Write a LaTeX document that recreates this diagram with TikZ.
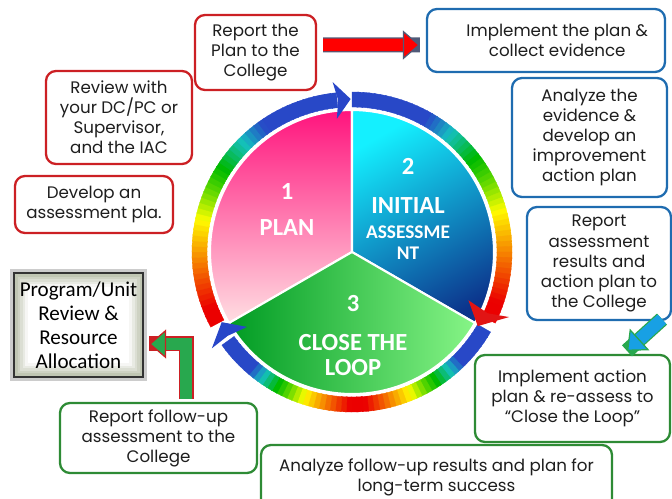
\documentclass[tikz,border=0pt]{standalone}
\usepackage{fontspec}
\setmainfont{Poppins}
\newfontfamily\calfont{Carlito}
\usetikzlibrary{arrows.meta}

\definecolor{redline}{RGB}{204,32,36}
\definecolor{blueline}{RGB}{31,108,176}
\definecolor{greenline}{RGB}{46,139,53}
\definecolor{arrowedge}{RGB}{80,90,120}
\definecolor{glowc}{RGB}{160,168,140}
\definecolor{pinktop}{RGB}{255,20,125}
\definecolor{pinkmid}{RGB}{255,65,148}
\definecolor{pinkbot}{RGB}{255,222,226}
\definecolor{cyantop}{RGB}{20,240,255}
\definecolor{bluemid}{RGB}{50,150,235}
\definecolor{bluebot}{RGB}{12,52,140}
\definecolor{greenleft}{RGB}{0,155,35}
\definecolor{greenmid}{RGB}{40,205,70}
\definecolor{greenright}{RGB}{135,245,135}
\definecolor{arrowgreen}{RGB}{40,168,78}
\definecolor{arrowcyan}{RGB}{24,160,228}
\definecolor{headblue}{RGB}{40,70,200}
\definecolor{headred}{RGB}{225,20,20}
\definecolor{textgray}{RGB}{30,30,30}

% one piece of the rainbow ring: angle, place on the arc (0 red end ... 1 blue end)
\newcommand{\ringpiece}[2]{%
    \pgfmathsetmacro\ringt{cl((#2-0.05)/0.3)+cl((#2-0.35)/0.2)+cl((#2-0.55)/0.2)}%
    \pgfmathsetmacro\ringh{(58*cl(\ringt)+64*cl(\ringt-1)+106*cl(\ringt-2))/360}%
    \pgfmathsetmacro\rings{1-0.2*cl(\ringt-2)}%
    \pgfmathsetmacro\ringb{0.92+0.08*cl(\ringt)-0.28*cl(\ringt-1)+0.06*cl(\ringt-2)}%
    \definecolor{ringc}{hsb}{\ringh,\rings,\ringb}%
    \filldraw[ringc, line width=0.2pt] (#1:2.90) arc[start angle=#1, end angle=#1-2.4, radius=2.90]
        -- ({#1-2.4}:3.20) arc[start angle=#1-2.4, end angle=#1, radius=3.20] -- cycle;}

\begin{document}
\begin{tikzpicture}[
    declare function={cl(\x)=min(max(\x,0),1);},
    stepbox/.style={draw=#1, line width=1.3pt, rounded corners=0.2cm, fill=white,
        align=center, text=textgray, inner sep=1pt,
        font=\fontsize{9.5}{11.4}\selectfont},
    glowbox/.style={draw=black!80, line width=1.2pt, fill=white, align=center,
        font=\calfont\fontsize{12}{13.6}\selectfont, text=black,
        preaction={draw=black!20, line width=5pt},
        path picture={\foreach \k [evaluate=\k as \p using int(80-14*\k)] in {0,...,5}
            \draw[glowc!\p!white, line width=1.6pt]
              ([shift={(\k*0.05,\k*0.05)}]path picture bounding box.south west) rectangle
              ([shift={(-\k*0.05,-\k*0.05)}]path picture bounding box.north east);}},
    blockarr/.style 2 args={draw=#1, line width=0.25cm,
        -{Triangle[length=0.34cm, width=0.58cm, fill=#1, color=#2, line width=0.7pt]},
        preaction={draw=#2, line width=0.30cm, arrows=-}},
    pielabel/.style={text=white, font=\calfont\bfseries\fontsize{14}{15}\selectfont,
        align=center, inner sep=0pt}]

    \useasboundingbox (0,0) rectangle (13.44,9.98);

    % the wheel
    \begin{scope}[shift={(7.04,4.94)}]
        \shade[top color=pinktop, middle color=pinkmid, bottom color=pinkbot,
            draw=white, line width=1.2pt]
            (0,0) -- (90:2.84) arc[start angle=90, end angle=210, radius=2.84] -- cycle;
        \shade[top color=cyantop, middle color=bluemid, bottom color=bluebot,
            shading angle=30, draw=white, line width=1.2pt]
            (0,0) -- (-30:2.84) arc[start angle=-30, end angle=90, radius=2.84] -- cycle;
        \shade[left color=greenleft, middle color=greenmid, right color=greenright,
            draw=white, line width=1.2pt]
            (0,0) -- (210:2.84) arc[start angle=210, end angle=330, radius=2.84] -- cycle;

        % rainbow ring, three arcs
        \foreach \a [evaluate=\a as \s using (208-\a)/110] in {208,206,...,98}
            {\ringpiece{\a}{\s}}
        \foreach \a [evaluate=\a as \s using (\a+24)/114] in {90,88,...,-24}
            {\ringpiece{\a}{\s}}
        \foreach \a [evaluate=\a as \s using abs(\a+87)/57] in {-30,-32,...,-142}
            {\ringpiece{\a}{\s}}

        % arrow heads on the ring
        \fill[headblue] (90.5:3.06) -- (96.5:3.42) -- (95.2:3.05) -- (96.5:2.68) -- cycle;
        \fill[headred] (-30.5:2.92) -- (-22.5:2.52) -- (-24.3:2.98) -- (-22.5:3.40) -- cycle;
        \fill[headblue] (208.3:2.96) -- (215.5:2.58) -- (214:3.0) -- (214.5:3.40) -- cycle;
    \end{scope}

    \node[pielabel] (num1) at (5.74,6.14) {1};
    \node[pielabel] (lplan) at (5.74,5.42) {PLAN};
    \node[pielabel] (num2) at (8.16,6.66) {2};
    \node[pielabel] (linit) at (8.16,5.86) {INITIAL};
    \node[pielabel, font=\calfont\bfseries\fontsize{11}{12}\selectfont] (lassess) at (8.16,5.13) {ASSESSME\\NT};
    \node[pielabel] (num3) at (7.06,3.90) {3};
    \node[pielabel, font=\calfont\bfseries\fontsize{14}{14.7}\selectfont] (lclose) at (7.06,2.88) {CLOSE THE\\LOOP};

    % boxes
    \node[stepbox=redline, minimum width=2.42cm, minimum height=1.50cm] (rep) at (5.11,8.93) {Report the\\Plan to the\\College};
    \node[stepbox=redline, minimum width=2.92cm, minimum height=1.86cm] (rev) at (2.38,7.63) {Review with\\your DC/PC or\\Supervisor,\\and the IAC};
    \node[stepbox=redline, minimum width=3.16cm, minimum height=1.14cm] (dev) at (1.88,5.89) {Develop an\\assessment pla.};
    \node[stepbox=blueline, minimum width=4.76cm, minimum height=1.26cm] (impl) at (10.92,9.17) {\hspace*{0.45cm}Implement the plan \&\\\hspace*{0.45cm}collect evidence};
    \node[stepbox=blueline, minimum width=3.10cm, minimum height=2.38cm] (ana) at (11.79,7.23) {Analyze the\\evidence \&\\develop an\\improvement\\action plan};
    \node[stepbox=blueline, minimum width=2.88cm, minimum height=2.26cm] (rac) at (11.98,4.71) {Report\\assessment\\results and\\action plan to\\the College};
    \node[stepbox=greenline, minimum width=3.90cm, minimum height=1.74cm] (ia) at (11.45,2.01) {Implement action\\plan \& re-assess to\\“Close the Loop”};
    \node[stepbox=greenline, minimum width=7.02cm, minimum height=1.30cm] (af) at (8.73,0.43) {Analyze follow-up results and plan for\\long-term success};
    \node[stepbox=greenline, minimum width=3.94cm, minimum height=1.40cm] (rf) at (3.17,1.22) {Report follow-up\\assessment to the\\College};
    \node[glowbox, minimum width=2.50cm, minimum height=2.08cm] (prog) at (1.57,3.48) {Program/Unit\\Review \&\\Resource\\Allocation};

    % block arrows
    \draw[blockarr={red}{arrowedge}] ([shift={(0.12,0.15)}]rep.east) -- ([shift={(-0.12,-0.09)}]impl.west);
    \draw[blockarr={arrowgreen}{redline}] ([shift={(0.55,0.06)}]rf.north) |- ([shift={(0.10,-0.38)}]prog.east);
    \draw[blockarr={arrowcyan}{arrowgreen}] ([shift={(1.26,0.04)}]rac.south) -- ([shift={(1.09,0.06)}]ia.north);

\end{tikzpicture}
\end{document}
